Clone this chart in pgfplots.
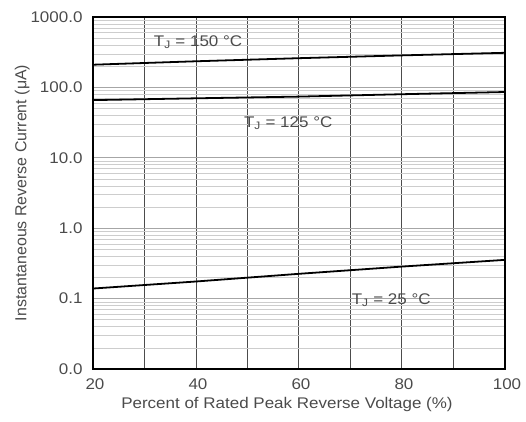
\documentclass[border=0pt]{standalone}
\usepackage{pgfplots}
\pgfplotsset{compat=1.18}
\usepackage{fontspec}
\setmainfont{Liberation Sans}
\newfontfamily\wide[FakeStretch=1.1]{Liberation Sans}
\definecolor{txt}{RGB}{75,75,75}
\definecolor{minorgrid}{RGB}{205,205,205}

\begin{document}
\begin{tikzpicture}
\path[use as bounding box] (-93bp,-53bp) rectangle (433bp,369bp);
\begin{axis}[
    scale only axis,
    width=412bp, height=352bp,
    ymode=log,
    xmin=20, xmax=100, ymin=0.01, ymax=1000,
    xtick={20,30,...,100},
    xticklabels={20,,40,,60,,80,,100},
    ytick={0.01,0.1,1,10,100,1000},
    yticklabels={0.0,0.1,1.0,10.0,100.0,1000.0},
    minor ytick={0.02,0.03,0.04,0.05,0.06,0.07,0.08,0.09,
                 0.2,0.3,0.4,0.5,0.6,0.7,0.8,0.9,
                 2,3,4,5,6,7,8,9,20,30,40,50,60,70,80,90,
                 200,300,400,500,600,700,800,900},
    grid=both,
    major x grid style={black!70, line width=1pt},
    major y grid style={black!35, line width=0.8pt},
    minor grid style={minorgrid, line width=0.6pt},
    axis line style={black, line width=1.4pt},
    tick style={draw=none},
    ticklabel style={font=\wide\fontsize{15.5}{17}\selectfont, text=txt},
    xticklabel style={yshift=-6bp, xshift=2bp},
    yticklabel style={xshift=-7bp},
    xlabel={Percent of Rated Peak Reverse Voltage (\%)},
    ylabel={Instantaneous Reverse Current (μA)},
    xlabel style={font=\wide\fontsize{15.5}{17}\selectfont, text=txt, xshift=-12bp, yshift=-1bp},
    ylabel style={font=\fontsize{16}{18}\selectfont, text=txt},
    ylabel shift=-6pt,
]
\addplot[black, line width=1.8pt] coordinates {(20,210) (40,235) (60,260) (80,285) (100,310)};
\addplot[black, line width=1.8pt] coordinates {(20,66) (40,70) (60,74) (80,80) (100,86)};
\addplot[black, line width=1.8pt] coordinates {(20,0.139) (40,0.175) (60,0.225) (80,0.285) (100,0.355)};
\node[txt, font=\wide\fontsize{15.5}{17}\selectfont] at (axis cs:40.4,441) {T\textsubscript{J} = 150 °C};
\node[txt, font=\wide\fontsize{15.5}{17}\selectfont] at (axis cs:57.9,31) {T\textsubscript{J} = 125 °C};
\node[txt, font=\wide\fontsize{15.5}{17}\selectfont] at (axis cs:77.9,0.095) {T\textsubscript{J} = 25 °C};
\end{axis}
\end{tikzpicture}
\end{document}
